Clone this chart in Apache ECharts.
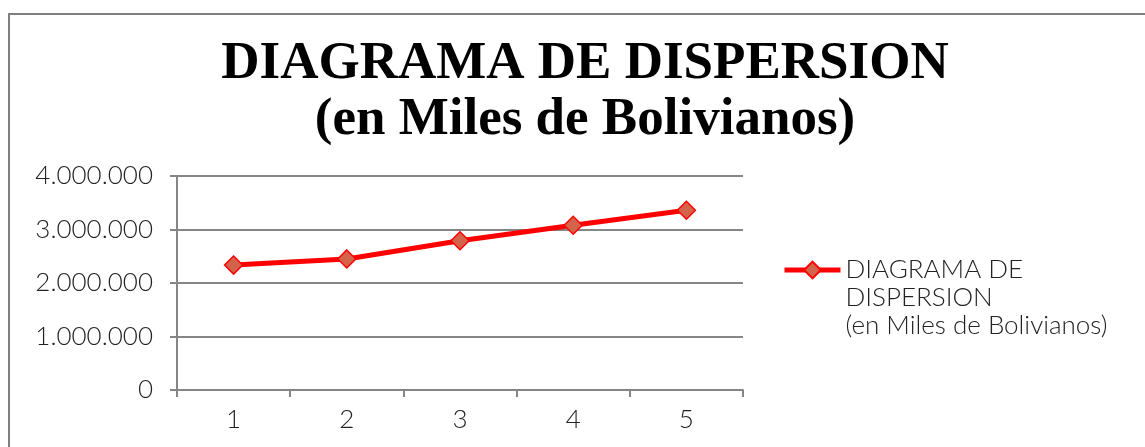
<!DOCTYPE html>
<html>
<head>
<meta charset="utf-8">
<script src="https://cdn.jsdelivr.net/npm/echarts@6/dist/echarts.min.js"></script>
<style>
  html, body { margin: 0; padding: 0; background: #fff; }
  #chart { width: 1145px; height: 447px; }
</style>
</head>
<body>
<div id="chart"></div>
<script>
// data
var categories = ['1', '2', '3', '4', '5'];
var values = [2335000, 2450000, 2790000, 3080000, 3360000];
var seriesName = 'DIAGRAMA DE\nDISPERSION\n(en Miles de Bolivianos)';

var chartDom = document.getElementById('chart');
var myChart = echarts.init(chartDom);
var option;

var axisGray = '#868686';
var labelFont = 'Lato';

option = {
    animation: false,
    title: {
        text: 'DIAGRAMA DE DISPERSION\n(en Miles de Bolivianos)',
        left: 580,
        top: 31,
        textAlign: 'center',
        textStyle: {
            fontFamily: 'Liberation Serif',
            fontWeight: 'bold',
            fontSize: 53,
            lineHeight: 56,
            color: '#000'
        }
    },
    graphic: [
        {
            type: 'rect',
            shape: { x: 9, y: 14, width: 1300, height: 600 },
            style: { fill: 'none', stroke: '#7f7f7f', lineWidth: 2 },
            silent: true
        }
    ],
    grid: {
        left: 177,
        top: 176,
        width: 566,
        height: 214
    },
    legend: {
        left: 777,
        top: 195,
        itemWidth: 56,
        itemHeight: 21,
        data: [seriesName],
        // two blank lines on top so the icon sits beside the first text line
        formatter: function (name) {
            return '\n\n' + name;
        },
        lineStyle: { width: 5 },
        textStyle: {
            fontFamily: labelFont,
            fontWeight: 300,
            fontSize: 26,
            lineHeight: 28,
            color: '#222'
        }
    },
    xAxis: {
        type: 'category',
        data: categories,
        boundaryGap: true,
        axisLine: { lineStyle: { color: axisGray, width: 2 } },
        axisTick: { show: true, length: 7, lineStyle: { color: axisGray, width: 2 } },
        axisLabel: {
            margin: 17,
            fontFamily: labelFont,
            fontWeight: 300,
            fontSize: 26,
            color: '#222'
        }
    },
    yAxis: {
        type: 'value',
        min: 0,
        max: 4000000,
        interval: 1000000,
        axisLine: { show: true, lineStyle: { color: axisGray, width: 2 } },
        axisTick: { show: true, length: 7, lineStyle: { color: axisGray, width: 2 } },
        splitLine: { lineStyle: { color: axisGray, width: 2 } },
        axisLabel: {
            margin: 24,
            fontFamily: labelFont,
            fontWeight: 300,
            fontSize: 26,
            color: '#222',
            formatter: function (v) {
                return String(v).replace(/\B(?=(\d{3})+(?!\d))/g, '.');
            }
        }
    },
    series: [
        {
            name: seriesName,
            type: 'line',
            data: values,
            symbol: 'diamond',
            symbolSize: 18,
            lineStyle: { color: '#ff0000', width: 5 },
            itemStyle: { color: '#d3634a', borderColor: '#ff0000', borderWidth: 1.5 }
        }
    ]
};

option && myChart.setOption(option);
</script>
</body>
</html>
